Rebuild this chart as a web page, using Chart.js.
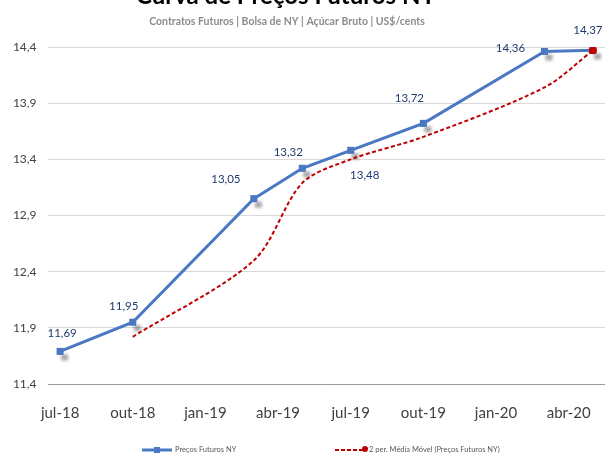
<!DOCTYPE html>
<html>
<head>
<meta charset="utf-8">
<script src="https://cdn.jsdelivr.net/npm/chart.js@4.4.1/dist/chart.umd.min.js"></script>
<style>
  html, body { margin: 0; padding: 0; background: #fff; overflow: hidden; }
  #wrap { position: absolute; left: 0; top: -20px; width: 606px; height: 473px; }
</style>
</head>
<body>
<div id="wrap"><canvas id="curva"></canvas></div>
<script>
// === dados (contratos de açúcar bruto, NY) ===
const contracts = ['jul-18', 'out-18', 'mar-19', 'mai-19', 'jul-19', 'out-19', 'mar-20', 'mai-20'];
const monthOffset = [0, 3, 8, 10, 12, 15, 20, 22];   // meses desde jul-18
const futuresPrice = [11.69, 11.95, 13.05, 13.32, 13.48, 13.72, 14.36, 14.37];
const movingAvg = [null, 11.82, 12.50, 13.19, 13.40, 13.60, 14.04, 14.37];

const xTickMonths = [0, 3, 6, 9, 12, 15, 18, 21];
const xTickLabels = ['jul-18', 'out-18', 'jan-19', 'abr-19', 'jul-19', 'out-19', 'jan-20', 'abr-20'];
const yTicks = [11.4, 11.9, 12.4, 12.9, 13.4, 13.9, 14.4];
const yTickLabels = ['11,4', '11,9', '12,4', '12,9', '13,4', '13,9', '14,4'];

const TITLE = 'Curva de Preços Futuros NY';
const SUBTITLE = 'Contratos Futuros | Bolsa de NY | Açúcar Bruto | US$/cents';

const BLUE = '#4a78c2';
const RED = '#c00000';

// deslocamento dos rótulos em relação ao ponto (px)
const labelOffsets = [[2, -18], [-9, -16], [-28, -19], [-14, -16], [14, 25], [-14, -25], [-34, -3], [-5, -20]];

function fmt(v) {
  return v.toFixed(2).replace('.', ',');
}

// título e subtítulo (o título fica cortado no topo, como no original)
const titles = {
  id: 'titles',
  afterDraw(chart) {
    const ctx = chart.ctx;
    ctx.save();
    ctx.textAlign = 'center';
    ctx.textBaseline = 'alphabetic';
    ctx.fillStyle = '#000';
    ctx.font = 'bold 24px Lato';
    ctx.fillText(TITLE, 286, 24);
    ctx.fillStyle = '#8c8c8c';
    ctx.font = 'bold 10.5px Lato';
    ctx.textBaseline = 'middle';
    ctx.fillText(SUBTITLE, 287, 42);
    ctx.restore();
  }
};

// sombra cinza sob os marcadores
const markerShadow = {
  id: 'markerShadow',
  beforeDatasetsDraw(chart) {
    const ctx = chart.ctx;
    ctx.save();
    ctx.filter = 'blur(1.5px)';
    ctx.fillStyle = 'rgba(0,0,0,0.35)';
    chart.getDatasetMeta(0).data.forEach(p => {
      ctx.fillRect(p.x + 1, p.y + 3, 7, 6);
    });
    ctx.restore();
  }
};

// rótulos de valor
const valueLabels = {
  id: 'valueLabels',
  afterDatasetsDraw(chart) {
    const ctx = chart.ctx;
    ctx.save();
    ctx.font = '11.5px Lato';
    ctx.fillStyle = '#1f3b70';
    ctx.textAlign = 'center';
    ctx.textBaseline = 'middle';
    chart.getDatasetMeta(0).data.forEach((p, i) => {
      const o = labelOffsets[i];
      ctx.fillText(fmt(futuresPrice[i]), p.x + o[0], p.y + o[1]);
    });
    ctx.restore();
  }
};

// legenda pequena no rodapé (cortada)
const bottomLegend = {
  id: 'bottomLegend',
  afterDraw(chart) {
    const ctx = chart.ctx;
    const y = chart.height - 3;
    ctx.save();
    ctx.lineWidth = 3;
    ctx.strokeStyle = BLUE;
    ctx.beginPath(); ctx.moveTo(142, y); ctx.lineTo(172, y); ctx.stroke();
    ctx.fillStyle = BLUE;
    ctx.fillRect(154, y - 3, 6, 6);
    ctx.lineWidth = 2;
    ctx.strokeStyle = RED;
    ctx.setLineDash([4, 2]);
    ctx.beginPath(); ctx.moveTo(335, y); ctx.lineTo(364, y); ctx.stroke();
    ctx.setLineDash([]);
    ctx.fillStyle = RED;
    ctx.beginPath(); ctx.arc(365, y - 1, 3, 0, Math.PI * 2); ctx.fill();
    ctx.font = '7.5px Lato';
    ctx.fillStyle = '#595959';
    ctx.textBaseline = 'middle';
    ctx.fillText('Preços Futuros NY', 175, y);
    ctx.fillText('2 per. Média Móvel (Preços Futuros NY)', 369, y);
    ctx.restore();
  }
};

new Chart(document.getElementById('curva'), {
  type: 'line',
  data: {
    datasets: [
      {
        label: 'Preços Futuros NY',
        data: monthOffset.map((m, i) => ({ x: m, y: futuresPrice[i] })),
        borderColor: BLUE,
        backgroundColor: BLUE,
        borderWidth: 3,
        pointStyle: 'rect',
        pointRadius: 5,
        pointBorderWidth: 0,
        tension: 0,
        order: 2
      },
      {
        label: '2 per. Média Móvel (Preços Futuros NY)',
        data: monthOffset.map((m, i) => ({ x: m, y: movingAvg[i] })),
        borderColor: RED,
        backgroundColor: RED,
        borderWidth: 2,
        borderDash: [4, 2.5],
        pointRadius: c => c.dataIndex === movingAvg.length - 1 ? 4 : 0,
        pointBorderWidth: 0,
        tension: 0.3,
        spanGaps: false,
        order: 1
      }
    ]
  },
  options: {
    responsive: true,
    maintainAspectRatio: false,
    animation: false,
    layout: { autoPadding: false, padding: { left: 1.4, right: 1, top: 67, bottom: 28 } },
    plugins: {
      legend: { display: false },
      tooltip: { enabled: false },
      title: { display: false }
    },
    scales: {
      x: {
        type: 'linear',
        min: -0.5,
        max: 22.5,
        afterBuildTicks: s => { s.ticks = xTickMonths.map(v => ({ value: v })); },
        ticks: {
          autoSkip: false,
          maxRotation: 0,
          padding: 3,
          color: '#404040',
          font: { family: 'Lato', size: 15 },
          callback: (v, i) => xTickLabels[i]
        },
        grid: { display: true, drawOnChartArea: false, drawTicks: true, tickLength: 17, color: 'rgba(0,0,0,0)' },
        border: { display: false }
      },
      y: {
        min: 11.4,
        max: 14.4,
        afterBuildTicks: s => { s.ticks = yTicks.map(v => ({ value: v })); },
        ticks: {
          padding: 11.5,
          color: '#404040',
          font: { family: 'Lato', size: 12 },
          callback: (v, i) => yTickLabels[i]
        },
        grid: {
          drawTicks: false,
          color: c => c.index === 0 ? '#9a9a9a' : '#d9d9d9',
          lineWidth: 1
        },
        border: { display: false }
      }
    }
  },
  plugins: [titles, markerShadow, valueLabels, bottomLegend]
});
</script>
</body>
</html>
